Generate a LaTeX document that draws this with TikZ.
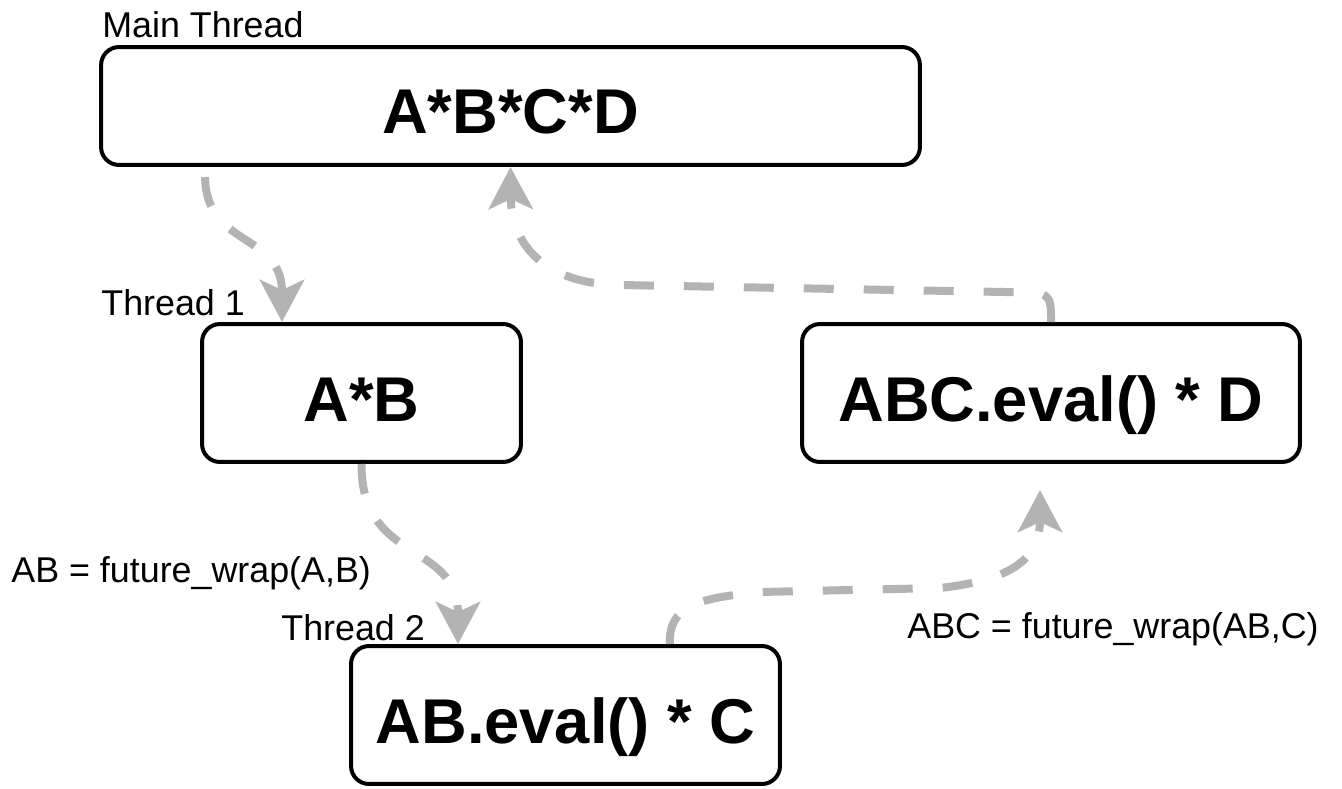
\documentclass[tikz,border=0pt]{standalone}
\usepackage{fontspec}
\setmainfont{Liberation Sans}
\usepackage{tikz}
\usetikzlibrary{arrows.meta}
\definecolor{flowgray}{HTML}{B3B3B3}

\begin{document}
\begin{tikzpicture}[x=0.02cm, y=-0.02cm,
  thread/.style={draw, line width=0.08cm, rounded corners=0.36cm, minimum height=2.76cm, align=center, font=\fontsize{36}{42}\selectfont\bfseries, text height=1.12cm, text depth=0pt},
  tag/.style={anchor=base west, inner sep=0pt, font=\fontsize{20.4}{24}\selectfont},
  flow/.style={-{Stealth[length=0.84cm, width=0.88cm, inset=0.2cm]}, flowgray, line width=0.16cm, dash pattern=on 0.6cm off 0.6cm},
]
\useasboundingbox (0,0) rectangle (1342,788);

\node[thread, minimum width=16.38cm, minimum height=2.36cm] (main) at (510.5,106) {A*B*C*D};
\node[thread, minimum width=6.38cm] (ab) at (361.5,393) {A*B};
\node[thread, minimum width=9.96cm] (abcd) at (1051,393) {ABC.eval() * D};
\node[thread, minimum width=8.58cm] (abc) at (565.5,715) {AB.eval() * C};

% Thread labels
\node[tag] (lmain) at (102,37) {Main Thread};
\node[tag] (lt1) at (101,315) {Thread 1};
\node[tag] (lt2) at (281,640) {Thread 2};
\node[tag] (lab) at (11,582) {AB = future\_wrap(A,B)};
\node[tag] (labc) at (907,638) {ABC = future\_wrap(AB,C)};

% spawn and return paths
\draw[flow] ([xshift=-6.11cm, yshift=-0.2cm]main.south) .. controls (206,248) and (282,232) .. ([xshift=-1.59cm]ab.north);
\draw[flow] (ab.south) .. controls (361,565) and (458,540) .. ([xshift=-2.15cm]abc.north);
\draw[flow] ([xshift=2.09cm]abc.north) .. controls (668,605) and (700,598) .. (760,592) -- (940,588) .. controls (1010,580) and (1040,560) .. ([xshift=-0.22cm, yshift=-0.52cm]abcd.south);
\draw[flow] (abcd.north) .. controls (1051,292) .. (1005,292) -- (620,285) .. controls (545,284) and (511,245) .. (main.south);

\end{tikzpicture}
\end{document}
